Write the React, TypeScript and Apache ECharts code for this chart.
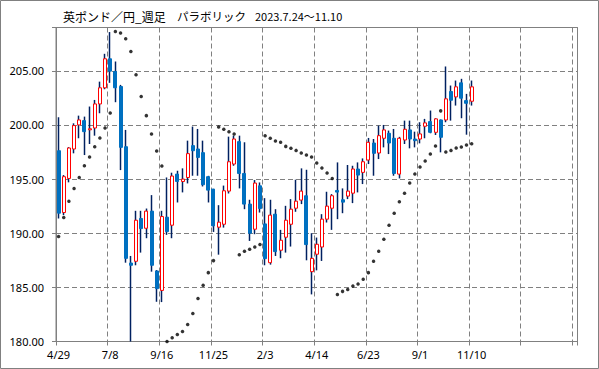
import React, { useEffect, useRef } from "react";
import * as echarts from "echarts";

const titleParts = ["英ポンド／円_週足", "パラボリック", "2023.7.24～11.10"];

const dates = [
  "4/29", "5/6", "5/13", "5/20", "5/27", "6/3", "6/10", "6/17", "6/24", "7/1",
  "7/8", "7/15", "7/22", "7/29", "8/5", "8/12", "8/19", "8/26", "9/2", "9/9",
  "9/16", "9/23", "9/30", "10/7", "10/14", "10/21", "10/28", "11/4", "11/11", "11/18",
  "11/25", "12/2", "12/9", "12/16", "12/23", "12/30", "1/6", "1/13", "1/20", "1/27",
  "2/3", "2/10", "2/17", "2/24", "3/3", "3/10", "3/17", "3/24", "3/31", "4/7",
  "4/14", "4/21", "4/28", "5/5", "5/12", "5/19", "5/26", "6/2", "6/9", "6/16",
  "6/23", "6/30", "7/7", "7/14", "7/21", "7/28", "8/4", "8/11", "8/18", "8/25",
  "9/1", "9/8", "9/15", "9/22", "9/29", "10/6", "10/13", "10/20", "10/27", "11/3",
  "11/10",
];

const futureDates = [
  "11/17", "11/24", "12/1", "12/8", "12/15", "12/22", "12/29", "1/5", "1/12", "1/19",
  "1/26", "2/2", "2/9", "2/16", "2/23", "3/1", "3/8", "3/15", "3/22", "3/29",
];

const opens = [
  197.62, 191.91, 195.06, 197.78, 200.0, 200.4, 199.55, 199.72, 201.94, 203.43,
  206.11, 204.94, 203.55, 197.99, 187.25, 187.41, 191.36, 190.46, 192.04, 186.51,
  184.72, 191.48, 190.74, 195.46, 194.78, 195.15, 198.09, 197.78, 197.44, 195.22,
  194.07, 190.56, 190.83, 193.89, 196.39, 198.46, 195.52, 192.69, 190.37, 194.38,
  190.86, 187.28, 191.76, 188.43, 189.63, 190.83, 192.31, 193.06, 193.46, 186.45,
  188.06, 188.73, 191.3, 192.31, 193.95, 193.09, 193.43, 193.7, 195.93, 195.62,
  196.76, 198.33, 197.41, 198.77, 199.23, 198.77, 195.46, 198.61, 199.54, 198.7,
  198.7, 199.88, 200.31, 199.32, 200.46, 200.46, 203.09, 202.59, 203.89, 202.25,
  202.19,
];

const closes = [
  191.85, 195.22, 197.87, 199.94, 200.46, 199.38, 199.65, 201.94, 203.43, 206.11,
  204.97, 203.43, 197.93, 187.68, 187.04, 191.2, 190.43, 192.04, 187.04, 184.88,
  191.54, 190.15, 195.28, 194.78, 195.0, 197.35, 197.62, 197.0, 194.48, 193.98,
  190.68, 191.02, 193.92, 196.6, 198.7, 195.52, 192.69, 190.0, 194.63, 192.28,
  187.65, 191.67, 188.3, 189.35, 191.2, 192.22, 192.96, 193.89, 188.95, 187.68,
  188.98, 191.3, 192.5, 193.46, 193.8, 192.87, 193.89, 195.93, 195.37, 196.6,
  198.4, 197.38, 199.01, 199.54, 198.33, 195.52, 198.77, 199.6, 198.7, 198.55,
  199.17, 200.19, 199.32, 200.56, 198.86, 202.41, 202.28, 203.52, 202.47, 202.0,
  203.52,
];

const lows = [
  191.36, 191.67, 194.7, 197.38, 198.77, 197.22, 198.24, 199.01, 201.08, 203.3,
  203.89, 202.1, 195.83, 187.28, 180.0, 187.04, 188.21, 189.54, 186.45, 183.67,
  183.64, 189.85, 189.54, 192.84, 193.77, 194.6, 195.31, 195.31, 194.32, 192.84,
  190.12, 188.02, 190.52, 193.67, 196.23, 194.14, 192.22, 189.29, 189.91, 191.91,
  187.04, 187.1, 187.9, 187.69, 188.21, 188.77, 191.98, 192.69, 187.5, 184.35,
  186.57, 187.44, 190.99, 190.31, 191.3, 191.85, 193.15, 192.78, 193.77, 194.54,
  196.39, 195.31, 196.85, 197.93, 197.31, 195.31, 195.06, 198.24, 197.84, 197.93,
  198.3, 198.77, 199.23, 199.07, 197.47, 200.25, 200.4, 201.79, 200.62, 199.1,
  201.79,
];

const highs = [
  200.71, 195.37, 197.95, 200.15, 200.86, 200.77, 201.7, 202.31, 204.0, 206.57,
  208.58, 205.86, 203.7, 199.54, 187.9, 192.07, 192.07, 192.28, 193.52, 186.6,
  192.07, 195.15, 195.59, 195.77, 195.99, 198.55, 199.85, 199.63, 198.55, 195.3,
  194.1, 192.59, 194.4, 198.92, 199.01, 199.01, 198.4, 193.09, 194.91, 194.69,
  193.24, 193.09, 192.22, 190.31, 192.53, 193.15, 194.94, 195.99, 195.86, 190.0,
  189.6, 191.76, 193.83, 193.61, 196.54, 194.14, 196.3, 196.23, 196.54, 196.91,
  198.8, 198.7, 199.94, 200.0, 199.48, 199.63, 198.9, 200.4, 200.4, 199.38,
  200.25, 200.56, 201.33, 200.62, 200.5, 205.4, 203.64, 204.1, 204.26, 202.87,
  204.1,
];

const sar = [
  189.69, 191.45, 192.96, 194.14, 195.15, 196.23, 197.04, 197.99, 198.8, 199.72,
  201.11, 208.64, 208.49, 207.96, 206.79, 204.63, 202.62, 200.86, 199.17, 197.59,
  196.2, 180.0, 180.34, 180.65, 180.93, 181.57, 182.59, 183.98, 185.19, 186.36,
  187.47, 199.81, 199.6, 199.38, 199.17, 188.02, 188.33, 188.52, 188.73, 188.95,
  199.01, 198.77, 198.52, 198.4, 198.02, 197.84, 197.65, 197.41, 197.22, 197.04,
  196.48, 196.02, 195.56, 195.06, 184.35, 184.63, 184.81, 185.12, 185.31, 185.74,
  186.36, 187.41, 188.33, 189.44, 190.74, 191.85, 192.9, 193.7, 194.63, 195.46,
  196.11, 196.67, 197.31, 198.06, 201.3, 197.5, 197.65, 197.87, 197.96, 198.15,
  198.27,
];

const yTicks = [180, 185, 190, 195, 200, 205];

const GRAY = "#808080";
const UP = "#ff0000";
const DOWN = "#0070c0";
const WICK = "#002060";

export default function App() {
  const ref = useRef<HTMLDivElement>(null);

  useEffect(() => {
    if (!ref.current) return;
    const chart = echarts.init(ref.current, null, { renderer: "svg" });
    const categories = [...dates, ...futureDates];
    const bodyData = opens.map((o, i) => [
      o,
      closes[i],
      Math.min(o, closes[i]),
      Math.max(o, closes[i]),
    ]);
    const wickData = opens.map((o, i) => {
      const m = (o + closes[i]) / 2;
      return [m, m, lows[i], highs[i]];
    });

    const cjk = '"Noto Sans CJK JP", sans-serif';

    chart.setOption({
      animation: false,
      backgroundColor: "#ffffff",
      grid: {
        left: 56,
        right: 21.5,
        top: 27.5,
        bottom: 27.5,
        show: true,
        borderColor: GRAY,
        borderWidth: 1,
        backgroundColor: "transparent",
      },
      graphic: [
        {
          type: "rect",
          silent: true,
          shape: { x: 0.5, y: 0.5, width: 598, height: 368 },
          style: { fill: "none", stroke: GRAY, lineWidth: 1 },
        },
        {
          type: "text",
          x: 63,
          y: 16,
          silent: true,
          style: {
            text: titleParts[0],
            fontSize: 12,
            fontFamily: cjk,
            fill: "#000",
            verticalAlign: "middle",
            align: "left",
          },
        },
        {
          type: "text",
          x: 177,
          y: 16,
          silent: true,
          style: {
            text: titleParts[1],
            fontSize: 11.5,
            fontFamily: cjk,
            fill: "#000",
            verticalAlign: "middle",
            align: "left",
          },
        },
        {
          type: "text",
          x: 255,
          y: 16,
          silent: true,
          style: {
            text: titleParts[2],
            fontSize: 11,
            fontFamily: cjk,
            fill: "#000",
            verticalAlign: "middle",
            align: "left",
          },
        },
      ],
      xAxis: {
        type: "category",
        data: categories,
        boundaryGap: true,
        axisLine: { show: true, lineStyle: { color: GRAY, width: 1 } },
        axisTick: { show: true, interval: 9, length: 4, lineStyle: { color: GRAY } },
        axisLabel: {
          interval: 9,
          color: "#000",
          fontSize: 11,
          fontFamily: '"Noto Sans", sans-serif',
          margin: 7,
          formatter: (v: string, i: number) => (i < dates.length ? v : ""),
        },
        splitLine: {
          show: true,
          interval: 9,
          lineStyle: { color: GRAY, type: [5, 3], width: 1 },
        },
      },
      yAxis: {
        type: "value",
        min: 180,
        max: 209,
        interval: 5,
        axisLine: { show: true, lineStyle: { color: GRAY, width: 1 } },
        axisTick: { show: true, length: 4, lineStyle: { color: GRAY } },
        axisLabel: {
          color: "#000",
          fontSize: 11,
          fontFamily: '"Noto Sans", sans-serif',
          margin: 12,
          formatter: (v: number) => (yTicks.includes(v) ? v.toFixed(2) : ""),
        },
        splitLine: {
          show: true,
          lineStyle: { color: GRAY, type: [5, 3], width: 1 },
        },
      },
      series: [
        {
          type: "candlestick",
          name: "wick",
          data: wickData,
          barWidth: 1,
          silent: true,
          itemStyle: {
            color: WICK,
            color0: WICK,
            borderColor: WICK,
            borderColor0: WICK,
            borderWidth: 1.5,
          },
        },
        {
          type: "candlestick",
          name: "body",
          data: bodyData,
          barWidth: 3.5,
          silent: true,
          itemStyle: {
            color: "#ffffff",
            color0: DOWN,
            borderColor: UP,
            borderColor0: DOWN,
            borderWidth: 1,
          },
        },
        {
          type: "scatter",
          name: "SAR",
          data: sar,
          symbol: "circle",
          symbolSize: 3.5,
          silent: true,
          itemStyle: { color: "#000" },
        },
      ],
    });

    return () => chart.dispose();
  }, []);

  return (
    <div
      ref={ref}
      style={{
        position: "fixed",
        left: 0,
        top: 0,
        width: 599,
        height: 369,
        background: "#fff",
      }}
    />
  );
}
